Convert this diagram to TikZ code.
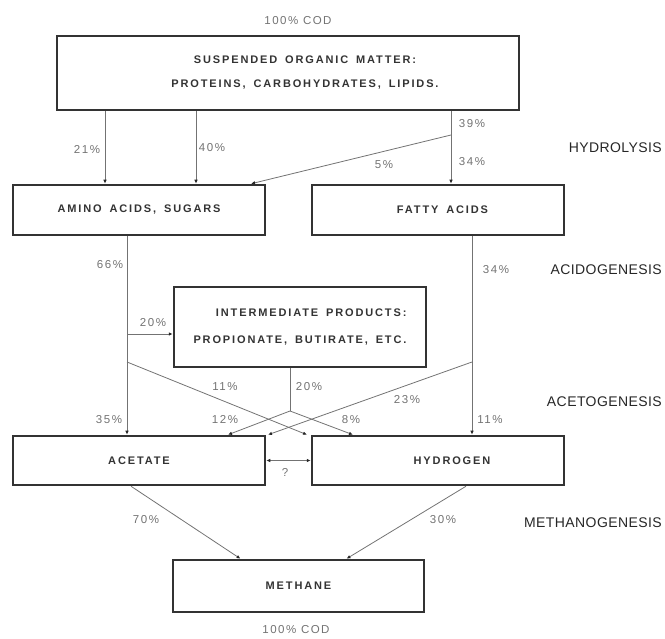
\documentclass[tikz,border=0pt]{standalone}
\usepackage{fontspec}
\setmainfont{Liberation Sans}
\newfontfamily\boxfont{Liberation Sans}[LetterSpace=17, WordSpace=1.6]
\newfontfamily\pctfont{Liberation Sans}[LetterSpace=13]
\newfontfamily\stagefont{Liberation Sans}[LetterSpace=3]
\usetikzlibrary{arrows.meta,calc}

\tikzset{
  box/.style={draw=black!80, line width=2.5pt, minimum width=252pt, minimum height=50pt,
    inner sep=0pt, align=center, text=black!80, font=\boxfont\bfseries\fontsize{11}{13}\selectfont},
  flow/.style={draw=black!55, line width=0.8pt, -{Latex[length=4pt,width=3.5pt,color=black!85]}},
  both/.style={flow, {Latex[length=4pt,width=3.5pt,color=black!85]}-{Latex[length=4pt,width=3.5pt,color=black!85]}},
  pct/.style={text=black!55, inner sep=0pt, font=\pctfont\fontsize{11.5}{13}\selectfont},
  stage/.style={anchor=east, inner sep=0pt, text=black!85, font=\stagefont\fontsize{14}{16}\selectfont}
}

\begin{document}
\begin{tikzpicture}[x=1pt, y=-1pt]
	\useasboundingbox (0,0) rectangle (665,639);
	
	%%%%% boxes %%%%%
	\node[box, minimum width=462pt, minimum height=74pt, font=\boxfont\bfseries\fontsize{11}{24}\selectfont] (top) at (288,73)
		{\hspace*{34pt}SUSPENDED ORGANIC MATTER:\\\hspace*{34pt}PROTEINS, CARBOHYDRATES, LIPIDS.};
	\node[box] (amino) at (139,210) {AMINO ACIDS, SUGARS};
	\node[box] (fatty) at (438,210) {\hspace*{9pt}FATTY ACIDS};
	\node[box, minimum height=80pt, align=right, font=\boxfont\bfseries\fontsize{11}{27}\selectfont] (inter) at (300,327)
		{INTERMEDIATE PRODUCTS:\\PROPIONATE, BUTIRATE, ETC.};
	\node[box, minimum height=49pt] (acetate) at (139,460.5) {ACETATE};
	\node[box, minimum height=49pt] (hydrogen) at (438,460.5) {\hspace*{28pt}HYDROGEN};
	\node[box, minimum width=251pt, minimum height=52pt] (methane) at (298.5,586) {METHANE};
	
	%%%%% branch points %%%%%
	\coordinate (s5) at (451,135);
	\coordinate (b20) at (127,334);
	\coordinate (b11) at (127,362);
	\coordinate (b23) at (472,362);
	\coordinate (split) at (290,411);
	
	%%%%% hydrolysis %%%%%
	\draw[flow] ([xshift=-183pt]top.south) -- ([xshift=-34pt]amino.north);
	\draw[flow] ([xshift=-92pt]top.south) -- ([xshift=57pt]amino.north);
	\draw[flow] ([xshift=163pt]top.south) -- ([xshift=13pt]fatty.north);
	\draw[flow] (s5) -- ([xshift=112pt]amino.north);
	
	%%%%% acidogenesis / acetogenesis %%%%%
	\draw[flow] ([xshift=-12pt]amino.south) -- ([xshift=-12pt]acetate.north);
	\draw[flow] ([xshift=34pt]fatty.south) -- ([xshift=34pt]hydrogen.north);
	\draw[flow] (b20) -- (b20 -| inter.west);
	\draw[flow] (b11) -- ([xshift=-131pt]hydrogen.north);
	\draw[flow] (b23) -- ([xshift=129pt]acetate.north);
	\draw[draw=black!55, line width=0.8pt] (inter.south -| split) -- (split);
	\draw[flow] (split) -- ([xshift=89pt]acetate.north);
	\draw[flow] (split) -- ([xshift=-85pt]hydrogen.north);
	\draw[both] (acetate.east) -- (hydrogen.west);
	
	%%%%% methanogenesis %%%%%
	\draw[flow] ([xshift=-8pt]acetate.south) -- ([xshift=-58pt]methane.north);
	\draw[flow] ([xshift=28pt]hydrogen.south) -- ([xshift=48pt]methane.north);
	
	%%%%% percentages %%%%%
	\node[pct] (codIn) at (298,21) {100\% COD};
	\node[pct] (codOut) at (296,630) {100\% COD};
	\node[pct] (p21) at (87,150) {21\%};
	\node[pct] (p40) at (212,148) {40\%};
	\node[pct] (p39) at (472,124) {39\%};
	\node[pct] (p34a) at (472,162) {34\%};
	\node[pct] (p5) at (384,165) {5\%};
	\node[pct] (p66) at (110,265) {66\%};
	\node[pct] (p34b) at (496,270) {34\%};
	\node[pct] (p20a) at (153,323) {20\%};
	\node[pct] (p11a) at (225,387) {11\%};
	\node[pct] (p20b) at (309,387) {20\%};
	\node[pct] (p23) at (407,400) {23\%};
	\node[pct] (p35) at (109,420) {35\%};
	\node[pct] (p12) at (225,420) {12\%};
	\node[pct] (p8) at (351,420) {8\%};
	\node[pct] (p11b) at (490,420) {11\%};
	\node[pct] (pq) at (285,472) {?};
	\node[pct] (p70) at (146,520) {70\%};
	\node[pct] (p30) at (443,520) {30\%};
	
	%%%%% stages %%%%%
	\node[stage] (hydro) at (662,148) {HYDROLYSIS};
	\node[stage] (acido) at (662,270) {ACIDOGENESIS};
	\node[stage] (aceto) at (662,402) {ACETOGENESIS};
	\node[stage] (metha) at (662,523) {METHANOGENESIS};
\end{tikzpicture}
\end{document}
